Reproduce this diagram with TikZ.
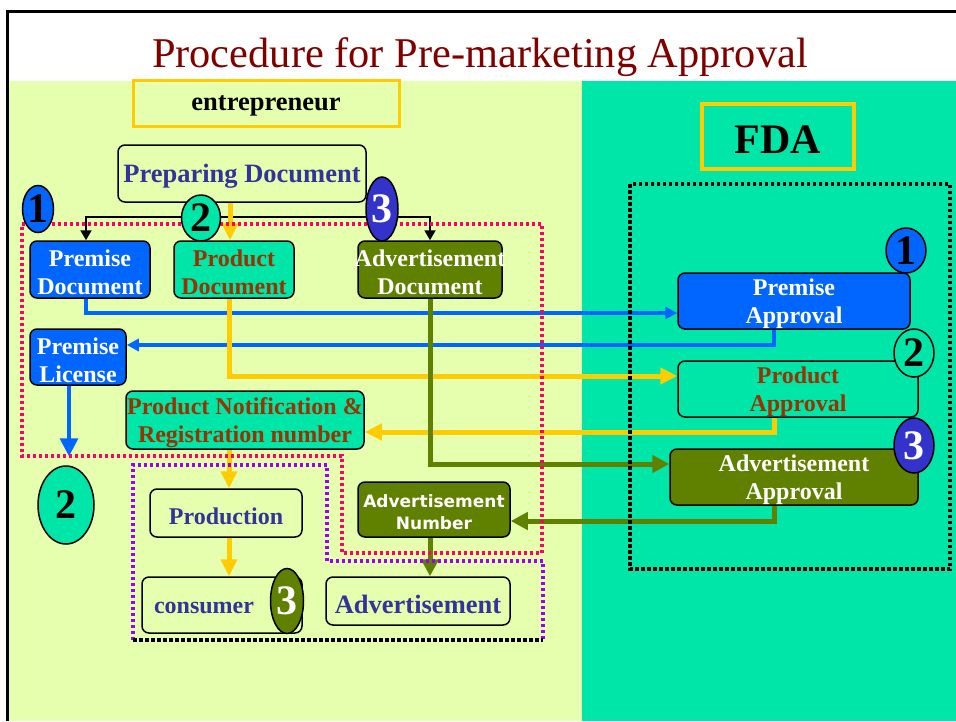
\documentclass[tikz,border=0pt]{standalone}
\usepackage{fontspec}
\setmainfont{Liberation Serif}
\newfontfamily\verdfont{DejaVu Sans}
\usetikzlibrary{shapes.geometric,arrows.meta,calc}
\definecolor{lightbg}{HTML}{E6FFAF}
\definecolor{cgreen}{HTML}{00E6A8}
\definecolor{cblue}{HTML}{0066FF}
\definecolor{colive}{HTML}{608000}
\definecolor{cdblue}{HTML}{3333CC}
\definecolor{ctext}{HTML}{333399}
\definecolor{cbrown}{HTML}{993300}
\definecolor{cyel}{HTML}{FFCC00}
\definecolor{cpink}{HTML}{FF0066}
\definecolor{cpurple}{HTML}{9900FF}
\definecolor{ctitle}{HTML}{800000}
\pgfdeclarelayer{bg}
\pgfdeclarelayer{mid}
\pgfsetlayers{bg,mid,main}
\newcommand\zc[1]{\makebox[0pt]{\raisebox{-3pt}[\height][\depth]{#1}}}
\begin{document}
\begin{tikzpicture}[x=1pt,y=-1pt,
  box/.style={draw=black,line width=1.5pt,rounded corners=7pt,inner sep=0pt,align=center,font=\fontsize{24}{28}\selectfont\bfseries},
  bluebox/.style={box,fill=cblue,text=white},
  greenbox/.style={box,fill=cgreen,text=cbrown},
  olivebox/.style={box,fill=colive,text=white},
  lightbox/.style={box,fill=lightbg,text=ctext},
  ybox/.style={draw=cyel,line width=3pt,inner sep=0pt,font=\bfseries},
  badge/.style={ellipse,draw=black,line width=1.5pt,inner sep=0pt,font=\fontsize{42}{42}\selectfont\bfseries},
  bluear/.style={draw=cblue,line width=3.5pt,-{Triangle[length=12pt,width=12pt]}},
  ylwar/.style={draw=cyel,line width=5pt,-{Triangle[length=17pt,width=16pt]}},
  olvar/.style={draw=colive,line width=5pt,-{Triangle[length=17pt,width=17pt]}},
  blkar/.style={draw=black,line width=2pt,{Triangle[length=10pt,width=11pt]}-{Triangle[length=10pt,width=11pt]}},
  dotline/.style={line width=3.5pt,dash pattern=on 3pt off 3pt}
]
\useasboundingbox (0,0) rectangle (956,721);
\begin{pgfonlayer}{bg}
  \fill[white] (0,0) rectangle (956,721);
  \fill[lightbg] (7,81) rectangle (582,721);
  \fill[cgreen] (582,81) rectangle (956,721);
  \draw[line width=3pt] (7.5,721) -- (7.5,11) -- (956,11);
\end{pgfonlayer}

% title
\node[anchor=base,text=ctitle,inner sep=0pt,font=\fontsize{42.4}{43}\selectfont] (title) at (480,67) {Procedure for Pre-marketing Approval};

% left column
\node[ybox,minimum width=266pt,minimum height=46pt,font=\fontsize{26.5}{30}\selectfont\bfseries] (entre) at (266,103) {\zc{entrepreneur}};
\node[lightbox,minimum width=248pt,minimum height=57pt,font=\fontsize{26.5}{30}\selectfont\bfseries] (prep) at (242,173.5) {\zc{Preparing Document}};
\node[bluebox,minimum width=120pt,minimum height=57pt] (premdoc) at (90,269.5) {\zc{Premise}\\\zc{Document}};
\node[greenbox,minimum width=120pt,minimum height=57pt] (proddoc) at (234,269.5) {\zc{Product}\\\zc{Document}};
\node[olivebox,minimum width=144pt,minimum height=57pt] (advdoc) at (430,269.5) {\zc{Advertisement}\\\zc{Document}};
\node[bluebox,minimum width=96pt,minimum height=56pt] (premlic) at (78,357) {\zc{Premise}\\\zc{License}};
\node[greenbox,minimum width=238pt,minimum height=58pt] (prodnot) at (245,420) {\zc{Product Notification \&}\\\zc{Registration number}};
\node[lightbox,minimum width=152pt,minimum height=48pt] (production) at (226,513) {\zc{Production}};
\node[lightbox,minimum width=160pt,minimum height=56pt] (consumer) at (222,605) {\zc{consumer\hspace*{36pt}}};
\node[olivebox,minimum width=152pt,minimum height=55pt,font=\verdfont\fontsize{17}{22}\selectfont\bfseries] (advnum) at (434,509.5) {\zc{Advertisement}\\\zc{Number}};
\node[lightbox,minimum width=184pt,minimum height=48pt,font=\fontsize{26.5}{30}\selectfont\bfseries] (adv) at (418,601) {\zc{Advertisement}};

% right column
\node[ybox,line width=3.5pt,minimum width=152pt,minimum height=65pt,font=\fontsize{42}{42}\selectfont\bfseries] (fda) at (778,136.5) {\zc{FDA}};
\node[bluebox,minimum width=232pt,minimum height=56pt] (premapp) at (794,301) {\zc{Premise}\\\zc{Approval}};
\node[greenbox,minimum width=240pt,minimum height=56pt] (prodapp) at (798,389) {\zc{Product}\\\zc{Approval}};
\node[olivebox,minimum width=248pt,minimum height=56pt] (advapp) at (794,477) {\zc{Advertisement}\\\zc{Approval}};

% badges
\node[badge,fill=cblue,minimum width=31pt,minimum height=47pt] (b1) at (38,209) {1};
\node[badge,fill=cgreen,minimum width=39pt,minimum height=46pt] (b2) at (201,218) {2};
\node[badge,fill=cdblue,text=white,minimum width=32pt,minimum height=64pt] (b3) at (382,209) {3};
\node[badge,fill=cgreen,minimum width=56pt,minimum height=78pt] (bigtwo) at (66,505) {2};
\node[badge,fill=colive,text=white,minimum width=33pt,minimum height=65pt] (cthree) at (287,601) {3};
\node[badge,fill=cblue,minimum width=40pt,minimum height=45pt] (r1) at (906,250.5) {1};
\node[badge,fill=cgreen,minimum width=40pt,minimum height=48pt] (r2) at (914,353) {2};
\node[badge,fill=cdblue,text=white,minimum width=40pt,minimum height=55pt] (r3) at (914,445.5) {3};

\begin{pgfonlayer}{mid}
  % from preparing document
  \coordinate (jl) at (86,217);
  \coordinate (jr) at (430,217);
  \draw[blkar] (jl |- premdoc.north) -- (jl) -- (jr) -- (jr |- advdoc.north);
  \draw[ylwar] ([xshift=-12pt]prep.south) -- ([xshift=-4pt]proddoc.north);
  % premise
  \draw[bluear] ([xshift=-4pt]premdoc.south) |- ([yshift=-12pt]premapp.west);
  \draw[bluear] ([xshift=-20pt]premapp.south) |- ([yshift=12pt]premlic.east);
  \draw[bluear,-{Triangle[length=18pt,width=18pt]},shorten >=9pt] ([xshift=-9pt]premlic.south) coordinate (pl) -- (pl |- bigtwo.north);
  % product
  \draw[ylwar] ([xshift=-5pt]proddoc.south) |- ([yshift=13pt]prodapp.west);
  \draw[ylwar] ([xshift=-24pt]prodapp.south) |- ([yshift=-12pt]prodnot.east);
  \coordinate (ya) at (229,0);
  \draw[ylwar] (prodnot.south -| ya) -- (production.north -| ya);
  \draw[ylwar] (production.south -| ya) -- (consumer.north -| ya);
  % advertisement
  \draw[olvar] (advdoc.south) |- ([yshift=13pt]advapp.west);
  \draw[olvar] ([xshift=-20pt]advapp.south) |- ([yshift=-11.5pt]advnum.east);
  \draw[olvar] ([xshift=-4pt]advnum.south) -- ([xshift=-4pt]advnum.south |- adv.north);
  % dotted regions
  \draw[dotline,cpink] (22,224) -- (542,224) -- (542,553) -- (342,553) -- (342,456) -- (22,456) -- cycle;
  \draw[dotline,cpurple] (133,640) -- (133,465) -- (327,465) -- (327,561) -- (543,561) -- (543,640);
  \draw[dotline,black,dash pattern=on 3.5pt off 2.5pt] (133,640) -- (543,640);
  \draw[dotline,black,dash pattern=on 3.5pt off 2.5pt] (630,184) rectangle (950,569);
\end{pgfonlayer}
\end{tikzpicture}
\end{document}
